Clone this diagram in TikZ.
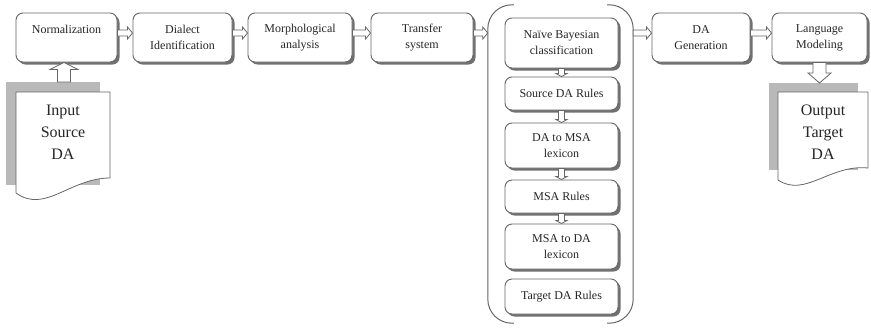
\documentclass[tikz,border=0pt]{standalone}
\usepackage{fontspec}
\setmainfont{Liberation Serif}
\usetikzlibrary{calc,shadows}

\tikzset{
  stage/.style={draw=gray!80!black, line width=0.9pt, rounded corners=7pt, fill=white,
    text=black!85, align=center, font=\fontsize{12}{16}\selectfont, inner sep=2pt,
    minimum height=49pt, drop shadow={shadow xshift=2.5pt, shadow yshift=-2.5pt, fill=gray!60!black, opacity=0.8}},
  rulebox/.style={stage, minimum width=113pt},
  arrowbox/.style={draw=gray!80!black, line width=0.8pt, fill=white},
  docpage/.style={draw=gray!80!black, line width=0.8pt, fill=white},
  docshade/.style={fill=gray!55},
  doctext/.style={text=black!85, align=center, font=\fontsize{16}{22}\selectfont},
  paren/.style={draw=gray!80!black, line width=1pt, rounded corners=24pt}
}

% hollow block arrows
\newcommand\rarr[2]{\draw[arrowbox] let \p1=(#1.east), \p2=(#2.west), \p3=(row) in
  (\x1,{\y3+3pt}) -- ({\x2-5pt},{\y3+3pt}) -- ({\x2-5pt},{\y3+6pt}) -- (\x2,\y3)
  -- ({\x2-5pt},{\y3-6pt}) -- ({\x2-5pt},{\y3-3pt}) -- (\x1,{\y3-3pt}) -- cycle;}
\newcommand\darr[5]{\draw[arrowbox] let \p1=(#1), \p2=(#2) in
  ({\x1-#3},\y1) -- ({\x1-#3},{\y2+#5}) -- ({\x1-#4},{\y2+#5}) -- (\x1,\y2)
  -- ({\x1+#4},{\y2+#5}) -- ({\x1+#3},{\y2+#5}) -- ({\x1+#3},\y1) -- cycle;}
\newcommand\uarr[5]{\draw[arrowbox] let \p1=(#1), \p2=(#2) in
  ({\x1-#3},\y1) -- ({\x1-#3},{\y2-#5}) -- ({\x1-#4},{\y2-#5}) -- (\x1,\y2)
  -- ({\x1+#4},{\y2-#5}) -- ({\x1+#3},{\y2-#5}) -- ({\x1+#3},\y1) -- cycle;}

\begin{document}
\begin{tikzpicture}[x=1pt,y=-1pt]
\useasboundingbox (0,0) rectangle (871,327);
\coordinate (row) at (0,33);

% pipeline
\node[stage, minimum width=101pt] (norm) at (66.5,37.5) {Normalization\\ \mbox{}};
\node[stage, minimum width=99pt] (dial) at (182.5,37.5) {Dialect\\Identification};
\node[stage, minimum width=104pt] (morph) at (300,37.5) {Morphological\\analysis};
\node[stage, minimum width=102pt] (trans) at (422,37.5) {Transfer\\system};
\node[stage, minimum width=98pt] (gen) at (701,37.5) {DA\\Generation};
\node[stage, minimum width=95pt] (lang) at (819.5,37.5) {Language\\Modeling};

% transfer system bracket
\node[minimum width=145pt, minimum height=318pt, inner sep=0pt] (tsys) at (560.5,164) {};
\draw[paren] ($(tsys.north west)+(26pt,0)$) -- (tsys.north west) -- (tsys.south west) -- ($(tsys.south west)+(26pt,0)$);
\draw[paren] ($(tsys.north east)+(-26pt,0)$) -- (tsys.north east) -- (tsys.south east) -- ($(tsys.south east)+(-26pt,0)$);

\node[rulebox, minimum height=50pt] (nb) at (561.5,43) {Naïve Bayesian\\classification};
\node[rulebox, minimum height=33pt] (src) at (561.5,93.5) {Source DA Rules};
\node[rulebox, minimum height=45pt] (d2m) at (561.5,145.5) {DA to MSA\\lexicon};
\node[rulebox, minimum height=33pt] (msar) at (561.5,196.5) {MSA Rules};
\node[rulebox, minimum height=45pt] (m2d) at (561.5,246.5) {MSA to DA\\lexicon};
\node[rulebox, minimum height=35pt] (tgt) at (561.5,296.5) {Target DA Rules};

\darr{nb.south}{src.north}{3pt}{5.5pt}{3pt}
\darr{src.south}{d2m.north}{3pt}{5.5pt}{3pt}
\darr{d2m.south}{msar.north}{3pt}{5.5pt}{3pt}
\darr{msar.south}{m2d.north}{3pt}{5.5pt}{3pt}

\rarr{norm}{dial}
\rarr{dial}{morph}
\rarr{morph}{trans}
\rarr{trans}{tsys}
\rarr{tsys}{gen}
\rarr{gen}{lang}

% input document
\fill[docshade] (6,82) rectangle (100,185);
\draw[docpage] (16,92) -- (110,92) -- (110,178) .. controls (70,178) and (45,214) .. (16,193) -- cycle;
\node[doctext] (input) at (63,132) {Input\\Source\\DA};
\coordinate (inTop) at (64,82);
\uarr{inTop}{norm.south}{6.5pt}{14pt}{7pt}

% output document
\fill[docshade] (769,83) rectangle (858,170);
\draw[docpage] (778,92) -- (868,92) -- (868,168) .. controls (830,164) and (805,198) .. (778,180) -- cycle;
\node[doctext] (output) at (823,132) {Output\\Target\\DA};
\coordinate (outTop) at (828,83);
\darr{lang.south}{outTop}{6.5pt}{11.5pt}{10pt}
\end{tikzpicture}
\end{document}
